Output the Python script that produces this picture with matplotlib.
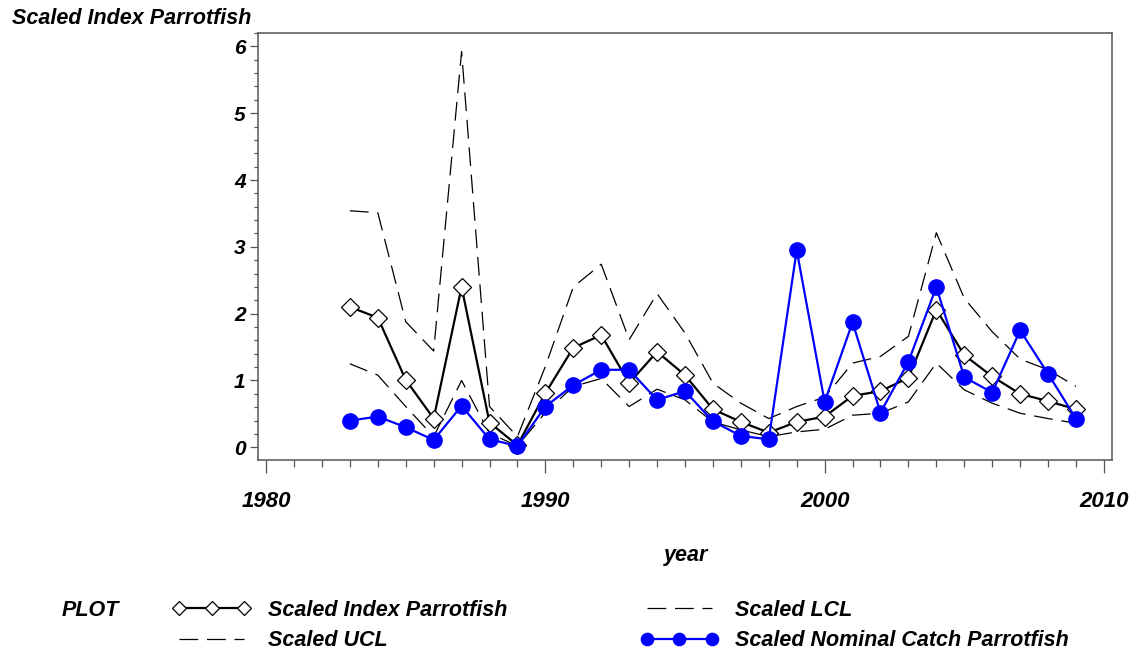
import matplotlib
matplotlib.use('Agg')
import matplotlib.pyplot as plt
from matplotlib.ticker import MultipleLocator

plt.rcParams['font.family'] = ['Liberation Sans', 'DejaVu Sans']
plt.rcParams['font.style'] = 'italic'
plt.rcParams['font.weight'] = 'bold'

# values
years = list(range(1983, 2010))
scaled_index = [2.10, 1.94, 1.01, 0.43, 2.40, 0.37, 0.03, 0.81, 1.49, 1.68, 0.96, 1.43, 1.08, 0.57,
                0.38, 0.22, 0.38, 0.46, 0.77, 0.84, 1.04, 2.06, 1.38, 1.06, 0.80, 0.69, 0.57]
scaled_nominal = [0.40, 0.46, 0.30, 0.11, 0.62, 0.12, 0.02, 0.61, 0.93, 1.16, 1.16, 0.71, 0.84, 0.39,
                  0.17, 0.12, 2.95, 0.68, 1.87, 0.52, 1.28, 2.40, 1.05, 0.82, 1.75, 1.10, 0.43]
scaled_ucl = [3.54, 3.51, 1.88, 1.44, 5.92, 0.61, 0.16, 1.21, 2.40, 2.74, 1.61, 2.30, 1.71, 0.96,
              0.66, 0.43, 0.61, 0.75, 1.26, 1.36, 1.66, 3.21, 2.23, 1.73, 1.32, 1.16, 0.91]
scaled_lcl = [1.25, 1.08, 0.61, 0.16, 1.00, 0.21, 0.02, 0.52, 0.91, 1.03, 0.61, 0.87, 0.71, 0.38,
              0.26, 0.16, 0.23, 0.27, 0.48, 0.51, 0.68, 1.26, 0.86, 0.66, 0.51, 0.43, 0.36]

W, H = 1131, 650
fig = plt.figure(figsize=(W / 100, H / 100), dpi=100)
ax = fig.add_axes([258 / W, 1 - 460 / H, (1112 - 258) / W, (460 - 33) / H])

dash = (15, 7)
l_idx, = ax.plot(years, scaled_index, color='black', lw=1.6, marker='D', markersize=9.5,
                 markerfacecolor='white', markeredgecolor='black', markeredgewidth=0.9,
                 label='Scaled Index Parrotfish', zorder=3)
l_ucl, = ax.plot(years, scaled_ucl, color='black', lw=0.9, dashes=dash, label='Scaled UCL', zorder=2)
l_lcl, = ax.plot(years, scaled_lcl, color='black', lw=0.9, dashes=dash, label='Scaled LCL', zorder=2)
l_nom, = ax.plot(years, scaled_nominal, color='#0000ff', lw=1.6, marker='o', markersize=11,
                 markerfacecolor='#0000ff', markeredgecolor='#0000ff',
                 label='Scaled Nominal Catch Parrotfish', zorder=4)

ax.set_xlim(1979.71, 2010.29)
ax.set_ylim(-0.19, 6.2)

ax.xaxis.set_major_locator(MultipleLocator(10))
ax.xaxis.set_minor_locator(MultipleLocator(1))
ax.yaxis.set_major_locator(MultipleLocator(1))
ax.yaxis.set_minor_locator(MultipleLocator(0.2))

for s in ax.spines.values():
    s.set_color('#555555')
    s.set_linewidth(1.1)

ax.tick_params(axis='x', which='major', direction='out', length=9.5, width=0.9, color='#555555',
               pad=13, labelsize=16)
ax.tick_params(axis='x', which='minor', direction='out', length=5, width=0.9, color='#555555')
ax.tick_params(axis='y', which='major', direction='out', length=6, width=0.9, color='#555555',
               pad=3, labelsize=15)
ax.tick_params(axis='y', which='minor', direction='out', length=3, width=0.9, color='#555555')

fig.text(12 / W, 1 - 19 / H, 'Scaled Index Parrotfish', fontsize=15.5, ha='left', va='center')
fig.text(686 / W, 1 - 556 / H, 'year', fontsize=15.5, ha='center', va='center')
fig.text(62 / W, 1 - 610 / H, 'PLOT', fontsize=15.5, ha='left', va='center')

fig.legend(handles=[l_idx, l_ucl, l_lcl, l_nom], ncol=2, loc='upper left',
           bbox_to_anchor=(173 / W, 1 - 600 / H), frameon=False, fontsize=15.5,
           numpoints=3, handlelength=3.6, handletextpad=0.8, columnspacing=6.2,
           labelspacing=0.42, borderpad=0, borderaxespad=0, markerscale=0.8)

fig.savefig('out.png', dpi=100)
